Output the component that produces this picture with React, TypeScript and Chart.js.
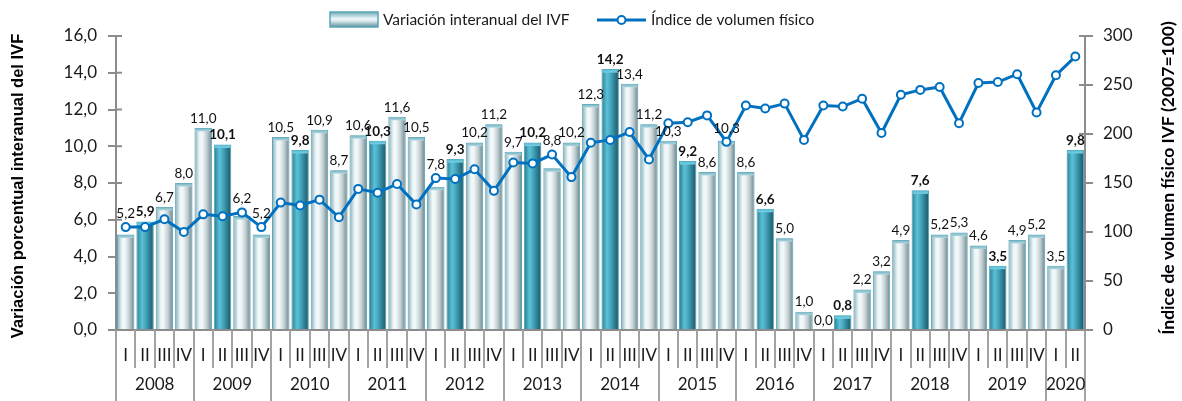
import React, { useEffect, useRef } from 'react';
import { Chart, registerables } from 'chart.js';

Chart.register(...registerables);

const years = ['2008', '2009', '2010', '2011', '2012', '2013', '2014', '2015', '2016', '2017', '2018', '2019', '2020'];

const quarterLabels = [
  'I', 'II', 'III', 'IV', 'I', 'II', 'III', 'IV', 'I', 'II', 'III', 'IV',
  'I', 'II', 'III', 'IV', 'I', 'II', 'III', 'IV', 'I', 'II', 'III', 'IV',
  'I', 'II', 'III', 'IV', 'I', 'II', 'III', 'IV', 'I', 'II', 'III', 'IV',
  'I', 'II', 'III', 'IV', 'I', 'II', 'III', 'IV', 'I', 'II', 'III', 'IV',
  'I', 'II',
];

// Variación interanual del IVF (%)
const variacionIVF = [
  5.2, 5.9, 6.7, 8.0,
  11.0, 10.1, 6.2, 5.2,
  10.5, 9.8, 10.9, 8.7,
  10.6, 10.3, 11.6, 10.5,
  7.8, 9.3, 10.2, 11.2,
  9.7, 10.2, 8.8, 10.2,
  12.3, 14.2, 13.4, 11.2,
  10.3, 9.2, 8.6, 10.3,
  8.6, 6.6, 5.0, 1.0,
  0.0, 0.8, 2.2, 3.2,
  4.9, 7.6, 5.2, 5.3,
  4.6, 3.5, 4.9, 5.2,
  3.5, 9.8,
];

// Índice de volumen físico (2007=100)
const indiceIVF = [
  105, 105, 113, 100,
  118, 116, 120, 105,
  130, 127, 133, 115,
  144, 140, 149, 128,
  155, 154, 164, 142,
  171, 170, 179, 156,
  191, 194, 202, 174,
  211, 212, 219, 192,
  229, 226, 231, 194,
  229, 228, 236, 201,
  240, 245, 248, 211,
  252, 253, 261, 222,
  260, 279,
];

const legendBar = 'Variación interanual del IVF';
const legendLine = 'Índice de volumen físico';
const titleLeft = 'Variación porcentual interanual del IVF';
const titleRight = 'Índice de volumen físico IVF (2007=100)';

const FONT = 'Lato, "Open Sans", sans-serif';
const AXIS_GRAY = '#8c8c8c';
const LINE_BLUE = '#0070C0';

const lightStops: [number, string][] = [
  [0, '#6e97a1'], [0.1, '#a8c5cc'], [0.3, '#eff8fa'], [0.45, '#f2f7f8'],
  [0.7, '#c3d0d3'], [0.88, '#8ea2a7'], [1, '#5e7e86'],
];
const darkStops: [number, string][] = [
  [0, '#226c7e'], [0.12, '#3a97ad'], [0.32, '#5cc0d6'], [0.5, '#48abc2'],
  [0.75, '#2e7f94'], [1, '#1c5464'],
];

const fmt = (v: number) => v.toFixed(1).replace('.', ',');

export default function App() {
  const ref = useRef<HTMLCanvasElement>(null);

  useEffect(() => {
    const canvas = ref.current;
    if (!canvas) return;

    const barFill = (c: any) => {
      const chart = c.chart;
      const xs = chart.scales?.x;
      const isDark = c.dataIndex % 4 === 1;
      if (!xs || !chart.chartArea) return isDark ? '#3a97ad' : '#dfe9eb';
      const cw = xs.width / quarterLabels.length;
      const w = cw * 0.9;
      const cx = xs.getPixelForValue(c.dataIndex);
      const g = chart.ctx.createLinearGradient(cx - w / 2, 0, cx + w / 2, 0);
      (isDark ? darkStops : lightStops).forEach(([o, col]) => g.addColorStop(o, col));
      return g;
    };

    const decor = {
      id: 'decor',
      beforeDatasetsDraw(chart: any) {
        const ctx = chart.ctx;
        const xs = chart.scales.x;
        const area = chart.chartArea;
        const n = quarterLabels.length;
        const cw = xs.width / n;
        ctx.save();
        ctx.strokeStyle = '#a3a3a3';
        ctx.lineWidth = 2;
        for (let i = 0; i <= n; i++) {
          const x = Math.round(xs.left + i * cw);
          const full = i % 4 === 0 || i === n;
          ctx.beginPath();
          ctx.moveTo(x, area.bottom);
          ctx.lineTo(x, full ? chart.height : area.bottom + 38);
          ctx.stroke();
        }
        // year labels
        ctx.fillStyle = '#1a1a1a';
        ctx.font = `17px ${FONT}`;
        ctx.textAlign = 'center';
        ctx.textBaseline = 'middle';
        years.forEach((y, k) => {
          const i0 = k * 4;
          const i1 = Math.min(n, i0 + 4);
          const x = xs.left + ((i0 + i1) / 2) * cw;
          ctx.fillText(y, x, area.bottom + 55);
        });
        // inner halves of y tick marks
        ctx.strokeStyle = AXIS_GRAY;
        ctx.lineWidth = 2;
        const yl = chart.scales.y;
        yl.ticks.forEach((t: any) => {
          const y = yl.getPixelForValue(t.value);
          ctx.beginPath();
          ctx.moveTo(area.left, y);
          ctx.lineTo(area.left + 6, y);
          ctx.stroke();
        });
        const yr = chart.scales.y1;
        yr.ticks.forEach((t: any) => {
          const y = yr.getPixelForValue(t.value);
          ctx.beginPath();
          ctx.moveTo(area.right - 6, y);
          ctx.lineTo(area.right, y);
          ctx.stroke();
        });
        ctx.restore();
      },
      afterDatasetDraw(chart: any, args: any) {
        // bevelled top cap of each bar (drawn before the line)
        if (chart.data.datasets[args.index].type !== 'bar') return;
        const ctx = chart.ctx;
        const meta = args.meta;
        ctx.save();
        meta.data.forEach((el: any, i: number) => {
          const h = el.base - el.y;
          if (h < 4) return;
          const w = el.width;
          const dark = i % 4 === 1;
          const g = ctx.createLinearGradient(0, el.y, 0, el.y + 4);
          g.addColorStop(0, dark ? '#4fb6cc' : '#6fb0c0');
          g.addColorStop(1, dark ? '#7fd6e8' : '#b9dce4');
          ctx.fillStyle = g;
          ctx.fillRect(el.x - w / 2 + 1, el.y + 0.5, w - 2, 3);
        });
        ctx.restore();
      },
      afterDatasetsDraw(chart: any) {
        const ctx = chart.ctx;
        const barIdx = chart.data.datasets.findIndex((d: any) => d.type === 'bar');
        const lineIdx = chart.data.datasets.findIndex((d: any) => d.type === 'line');
        const meta = chart.getDatasetMeta(barIdx);
        const lmeta = chart.getDatasetMeta(lineIdx);
        ctx.save();
        ctx.textAlign = 'center';
        ctx.textBaseline = 'middle';
        meta.data.forEach((el: any, i: number) => {
          const bold = i % 4 === 1;
          ctx.font = `${bold ? 'bold ' : ''}13.5px ${FONT}`;
          const txt = fmt(variacionIVF[i]);
          let y = el.y - 10;
          const p = lmeta.data[i];
          if (p) {
            const d = p.y - y;
            if (d > -4 && d < 12) y = p.y - 14;
          }
          ctx.fillStyle = '#111111';
          ctx.fillText(txt, el.x, y + 0.5);
        });
        ctx.restore();
      },
      afterDraw(chart: any) {
        const ctx = chart.ctx;
        ctx.save();
        // legend: bar swatch
        const sx = 330, sy = 12, sw = 48, sh = 15;
        const g = ctx.createLinearGradient(0, sy, 0, sy + sh);
        g.addColorStop(0, '#6fa9b7');
        g.addColorStop(0.45, '#eef7f9');
        g.addColorStop(0.6, '#dbe8eb');
        g.addColorStop(1, '#5f919c');
        ctx.fillStyle = g;
        ctx.fillRect(sx, sy, sw, sh);
        ctx.strokeStyle = '#5aa6b8';
        ctx.lineWidth = 1.5;
        ctx.strokeRect(sx, sy, sw, sh);
        ctx.fillStyle = '#1a1a1a';
        ctx.font = `15.5px ${FONT}`;
        ctx.textAlign = 'left';
        ctx.textBaseline = 'middle';
        ctx.fillText(legendBar, 383, 20);
        // legend: line
        ctx.strokeStyle = LINE_BLUE;
        ctx.lineWidth = 3;
        ctx.beginPath();
        ctx.moveTo(597, 20);
        ctx.lineTo(646, 20);
        ctx.stroke();
        ctx.beginPath();
        ctx.arc(621.5, 20, 4, 0, Math.PI * 2);
        ctx.fillStyle = '#ffffff';
        ctx.fill();
        ctx.lineWidth = 2;
        ctx.stroke();
        ctx.fillStyle = '#1a1a1a';
        ctx.fillText(legendLine, 651, 20);
        // axis titles
        ctx.textAlign = 'center';
        ctx.fillStyle = '#000000';
        ctx.save();
        ctx.translate(18, 186);
        ctx.rotate(-Math.PI / 2);
        ctx.font = 'bold 16.5px "Liberation Sans", Arial, sans-serif';
        ctx.fillText(titleLeft, 0, 0);
        ctx.restore();
        ctx.save();
        ctx.translate(1168, 178);
        ctx.rotate(-Math.PI / 2);
        ctx.font = `bold 17.5px ${FONT}`;
        ctx.fillText(titleRight, 0, 0);
        ctx.restore();
        ctx.restore();
      },
    };

    const chart = new Chart(canvas, {
      type: 'bar',
      data: {
        labels: quarterLabels,
        datasets: [
          {
            type: 'line',
            label: legendLine,
            data: indiceIVF,
            yAxisID: 'y1',
            borderColor: LINE_BLUE,
            borderWidth: 3,
            pointRadius: 4,
            pointBackgroundColor: '#ffffff',
            pointBorderColor: LINE_BLUE,
            pointBorderWidth: 2,
            tension: 0,
            order: 0,
          } as any,
          {
            type: 'bar',
            label: legendBar,
            data: variacionIVF,
            yAxisID: 'y',
            backgroundColor: barFill,
            borderColor: '#5aa6b8',
            borderWidth: 1,
            borderSkipped: 'bottom',
            barPercentage: 0.9,
            categoryPercentage: 1,
            order: 1,
          } as any,
        ],
      },
      options: {
        responsive: false,
        animation: false,
        devicePixelRatio: 1,
        layout: { padding: { top: 36, left: 0, right: 0, bottom: 0 } },
        plugins: {
          legend: { display: false },
          tooltip: { enabled: false },
          title: { display: false },
        },
        scales: {
          x: {
            type: 'category',
            offset: true,
            grid: { display: false, drawTicks: false },
            border: { display: true, color: AXIS_GRAY, width: 2 },
            ticks: {
              autoSkip: false,
              maxRotation: 0,
              minRotation: 0,
              padding: 15,
              color: '#1a1a1a',
              font: { family: FONT, size: 17 },
            },
            afterFit: (s: any) => { s.height = 71; },
          },
          y: {
            position: 'left',
            min: 0,
            max: 16,
            ticks: {
              stepSize: 2,
              padding: 11,
              color: '#1a1a1a',
              font: { family: FONT, size: 17 },
              callback: (v: any) => fmt(Number(v)),
            },
            grid: { drawOnChartArea: false, drawTicks: true, tickLength: 8, color: AXIS_GRAY, lineWidth: 2 },
            border: { display: true, color: AXIS_GRAY, width: 2 },
            afterFit: (s: any) => { s.width = 116; },
          },
          y1: {
            position: 'right',
            min: 0,
            max: 300,
            ticks: {
              stepSize: 50,
              padding: 10,
              color: '#1a1a1a',
              font: { family: FONT, size: 17 },
            },
            grid: { drawOnChartArea: false, drawTicks: true, tickLength: 8, color: AXIS_GRAY, lineWidth: 2 },
            border: { display: true, color: AXIS_GRAY, width: 2 },
            afterFit: (s: any) => { s.width = 97; },
          },
        },
      },
      plugins: [decor],
    });

    return () => chart.destroy();
  }, []);

  return (
    <div style={{ position: 'absolute', left: 0, top: 0, width: 1182, height: 401, background: '#ffffff' }}>
      <canvas ref={ref} width={1182} height={401} style={{ display: 'block' }} />
    </div>
  );
}
